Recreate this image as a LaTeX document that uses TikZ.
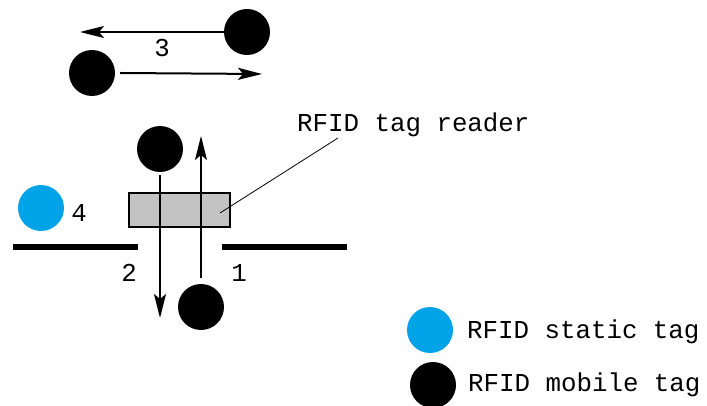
\documentclass[tikz,border=0pt]{standalone}
\usepackage{fontspec}
\setmainfont{Liberation Mono}
\usetikzlibrary{arrows.meta}
\definecolor{statictag}{RGB}{0,162,232}
\definecolor{readergray}{RGB}{195,195,195}
\begin{document}
\begin{tikzpicture}[x=1pt,y=-1pt,
  mobile/.style={circle,fill=black,minimum size=46pt,inner sep=0pt},
  static/.style={circle,fill=statictag,minimum size=46pt,inner sep=0pt},
  lbl/.style={inner sep=0pt,font=\fontsize{25.8}{30}\selectfont},
  move/.style={line width=2pt,-{Stealth[length=24pt,width=12pt,inset=5pt]}},
  wall/.style={line width=6pt},
  reader/.style={draw=black,line width=2pt,fill=readergray,minimum width=101pt,minimum height=34pt,inner sep=0pt}]
\useasboundingbox (0,0) rectangle (707,406);
% top
\node[mobile] (tr) at (247,32) {};
\node[mobile] (tl) at (92,73) {};
\coordinate (tre) at (80,32);
\coordinate (tle) at (262,74);
\draw[move] (tr.west) -- (tre);
\draw[move] (tl.east) ++(5,0) coordinate (tls) -- (tle);
\node[lbl] (n3) at (162,48) {3};
% middle
\node[mobile] (mt) at (160,149) {};
\node[mobile] (mb) at (201,307) {};
\node[static] (st) at (41,208) {};
\node[lbl] (n4) at (79,213) {4};
\node[reader] (rd) at (179.5,210) {};
\coordinate (lw1) at (13,247);
\coordinate (lw2) at (138,247);
\coordinate (rw1) at (222,247);
\coordinate (rw2) at (347,247);
\draw[wall] (lw1) -- (lw2);
\draw[wall] (rw1) -- (rw2);
\coordinate (dn) at (160,318);
\coordinate (up) at (201,136);
\draw[move] (mt.south) ++(0,3) -- (dn);
\draw[move] (mb.north) ++(0,-6) -- (up);
\node[lbl] (n2) at (129,273) {2};
\node[lbl] (n1) at (239,273) {1};
\node[lbl,anchor=west] (rt) at (297,125) {RFID tag reader};
\coordinate (lp) at (220,213);
\draw[line width=0.8pt] (lp) -- (338,138);
% legend
\node[static] (ls) at (430,330) {};
\node[lbl,anchor=west] (lst) at (467,332) {RFID static tag};
\node[mobile] (lm) at (433,385) {};
\node[lbl,anchor=west] (lmt) at (468,385) {RFID mobile tag};
\end{tikzpicture}
\end{document}
